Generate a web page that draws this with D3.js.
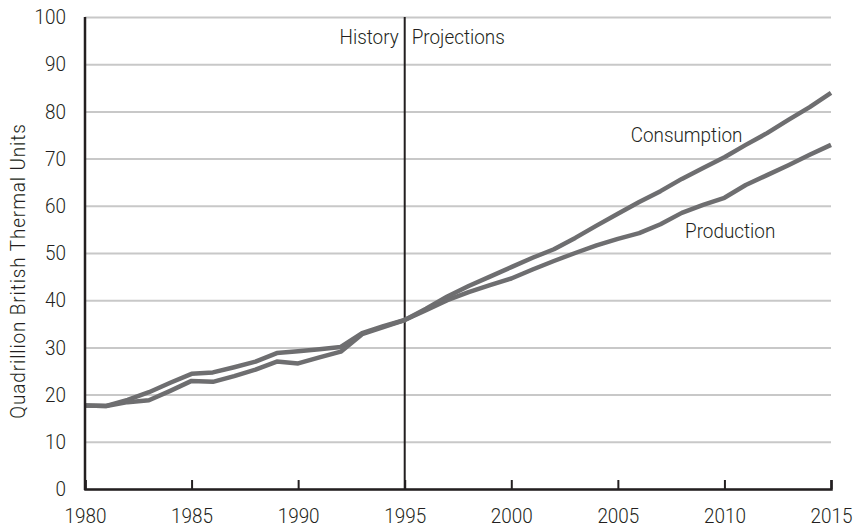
<!DOCTYPE html>
<html>
<head>
<meta charset="utf-8">
<script src="https://cdn.jsdelivr.net/npm/d3@7"></script>
<style>
  body { margin: 0; background: #fff; }
  svg text { font-family: Roboto, "Liberation Sans", sans-serif; font-weight: 300; fill: #231f20; }
</style>
</head>
<body>
<div id="chart"></div>
<script>
var width = 854, height = 530
var margin = {top: 17, right: 23, bottom: 41, left: 85}

// data
var years = d3.range(1980, 2016)
var consumption = [17.7, 17.6, 18.9, 20.5, 22.5, 24.4, 24.7, 25.8, 27.0, 28.8, 29.2, 29.6, 30.1, 33.0, 34.5, 35.8,
  38.2, 40.8, 43.0, 45.0, 47.0, 49.0, 50.8, 53.2, 55.8, 58.3, 60.8, 63.1, 65.7, 68.0, 70.3, 72.9, 75.4, 78.2, 80.9, 83.9]
var production = [17.7, 17.6, 18.4, 18.8, 20.8, 22.9, 22.7, 23.9, 25.3, 27.0, 26.6, 27.9, 29.1, 32.8, 34.3, 35.8,
  37.9, 40.0, 41.7, 43.2, 44.6, 46.5, 48.3, 50.0, 51.6, 53.0, 54.2, 56.1, 58.5, 60.2, 61.7, 64.4, 66.5, 68.6, 70.8, 72.9]
var xTicks = [1980, 1985, 1990, 1995, 2000, 2005, 2010, 2015]
var yTicks = [0, 10, 20, 30, 40, 50, 60, 70, 80, 90, 100]
var splitYear = 1995

var fontSize = "21px"
var squeeze = 0.9

// fake a condensed face: move x/y into a transform and narrow horizontally
function condense(sel) {
  sel.each(function() {
    var t = d3.select(this)
    var x = +t.attr("x") || 0, y = +t.attr("y") || 0
    t.attr("x", 0).attr("y", 0)
      .attr("transform", `translate(${x},${y}) scale(${squeeze},1)`)
  })
}

var svg = d3.select("#chart")
  .append("svg")
  .attr("width", width)
  .attr("height", height)

var xScale = d3.scaleLinear()
  .domain([1980, 2015])
  .range([margin.left, width - margin.right])

var yScale = d3.scaleLinear()
  .domain([0, 100])
  .range([height - margin.bottom, margin.top])

// grid
var yGrid = d3.axisLeft(yScale)
  .tickValues(yTicks)
  .tickSize(-(width - margin.left - margin.right))
  .tickFormat('')

svg.append("g")
  .attr("class", "grid")
  .attr("transform", `translate(${margin.left},0)`)
  .call(yGrid)
  .call(g => g.select(".domain").remove())
  .selectAll("line")
  .attr("stroke", "#c8c8c8")
  .attr("stroke-width", 2)

// y labels
svg.append("g")
  .attr("class", "y-axis")
  .attr("transform", `translate(${margin.left},0)`)
  .call(d3.axisLeft(yScale).tickValues(yTicks).tickSize(0).tickPadding(19))
  .call(g => g.select(".domain").remove())
  .selectAll("text")
  .attr("font-size", fontSize)
  .attr("fill", "#231f20")
  .call(condense)

// history / projections divider
svg.append("line")
  .attr("x1", xScale(splitYear))
  .attr("x2", xScale(splitYear))
  .attr("y1", yScale(100))
  .attr("y2", yScale(0))
  .attr("stroke", "#231f20")
  .attr("stroke-width", 2)

var line = d3.line()
  .x((d, i) => xScale(years[i]))
  .y(d => yScale(d))

svg.append("path")
  .datum(production)
  .attr("fill", "none")
  .attr("stroke", "#6e6e70")
  .attr("stroke-width", 4.5)
  .attr("stroke-linejoin", "round")
  .attr("d", line)

svg.append("path")
  .datum(consumption)
  .attr("fill", "none")
  .attr("stroke", "#6e6e70")
  .attr("stroke-width", 4.5)
  .attr("stroke-linejoin", "round")
  .attr("d", line)

// x axis
var xAxis = d3.axisBottom(xScale)
  .tickValues(xTicks)
  .tickSize(-9)
  .tickPadding(19)
  .tickFormat(d3.format("d"))

svg.append("g")
  .attr("class", "x-axis")
  .attr("transform", `translate(0,${yScale(0)})`)
  .call(xAxis)
  .call(g => g.select(".domain").attr("stroke", "#231f20").attr("stroke-width", 2.5))
  .call(g => g.selectAll(".tick line").attr("stroke", "#231f20").attr("stroke-width", 2))
  .selectAll("text")
  .attr("font-size", fontSize)
  .attr("fill", "#231f20")
  .call(condense)

// y axis line
svg.append("line")
  .attr("x1", margin.left)
  .attr("x2", margin.left)
  .attr("y1", yScale(100))
  .attr("y2", yScale(0) + 1)
  .attr("stroke", "#231f20")
  .attr("stroke-width", 2.5)

// y title
svg.append("text")
  .attr("transform", `translate(25,${(yScale(0) + yScale(100)) / 2 + 18}) rotate(-90) scale(${squeeze},1)`)
  .attr("text-anchor", "middle")
  .attr("font-size", fontSize)
  .style("letter-spacing", "1px")
  .text("Quadrillion British Thermal Units")

// annotations
var notes = [
  {text: "History", year: splitYear, value: 94.3, dx: -6, anchor: "end"},
  {text: "Projections", year: splitYear, value: 94.3, dx: 7, anchor: "start"},
  {text: "Consumption", year: 2005.6, value: 73.5, dx: 0, anchor: "start"},
  {text: "Production", year: 2008.15, value: 53.2, dx: 0, anchor: "start"}
]

svg.selectAll("text.note")
  .data(notes)
  .enter()
  .append("text")
  .attr("class", "note")
  .attr("x", d => xScale(d.year) + d.dx)
  .attr("y", d => yScale(d.value))
  .attr("text-anchor", d => d.anchor)
  .attr("font-size", fontSize)
  .text(d => d.text)
  .call(condense)
</script>
</body>
</html>
